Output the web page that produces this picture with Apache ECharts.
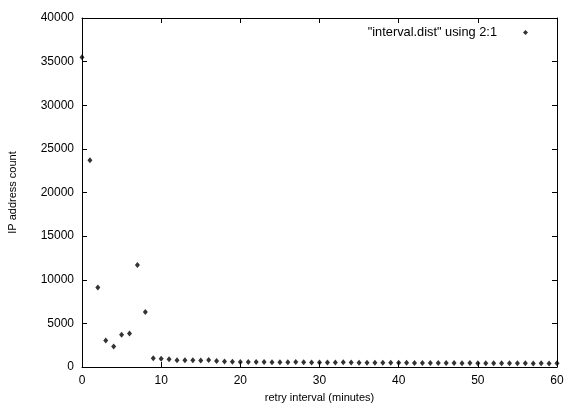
<!DOCTYPE html>
<html>
<head>
<meta charset="utf-8">
<script src="https://cdn.jsdelivr.net/npm/echarts@6/dist/echarts.min.js"></script>
<style>
  html, body { margin: 0; padding: 0; background: #fff; }
  #main { width: 566px; height: 405px; }
</style>
</head>
<body>
<div id="main"></div>
<script>
// retry interval (minutes) -> IP address count
var minutes = [];
for (var i = 0; i <= 60; i++) minutes.push(i);
var counts = [
    35500, 23700, 9100, 3050, 2350, 3700, 3850, 11700, 6300, 1000,
    950, 900, 780, 780, 760, 750, 790, 700, 640, 600,
    580, 570, 560, 560, 550, 550, 540, 560, 540, 520,
    530, 520, 510, 540, 520, 500, 490, 500, 490, 480,
    500, 480, 470, 460, 470, 460, 450, 450, 440, 450,
    440, 430, 440, 430, 420, 430, 420, 410, 420, 410,
    430
];
var xTicks = [0, 10, 20, 30, 40, 50, 60];
var yTicks = [0, 5000, 10000, 15000, 20000, 25000, 30000, 35000, 40000];
var seriesName = '"interval.dist" using 2:1';

var points = minutes.map(function (m, i) { return [m, counts[i]]; });

var myChart = echarts.init(document.getElementById('main'));

var font = 'Liberation Sans, Arial, sans-serif';
var axisLine = { show: true, onZero: false, lineStyle: { color: '#000', width: 1 } };
var axisTick = { show: true, inside: true, length: 5, lineStyle: { color: '#000' } };
var plain = function (v) { return String(v); };

var option = {
    backgroundColor: '#fff',
    animation: false,
    grid: { left: 82, top: 18, right: 9, bottom: 38, outerBoundsMode: 'none' },
    legend: {
        right: 33,
        top: 21,
        align: 'right',
        icon: 'diamond',
        itemWidth: 5,
        itemHeight: 5,
        itemGap: 0,
        textStyle: { color: '#000', fontSize: 12.8, fontFamily: font, padding: [0, 21, 0, 0] },
        data: [seriesName]
    },
    xAxis: [
        {
            type: 'value',
            min: xTicks[0],
            max: xTicks[xTicks.length - 1],
            interval: 10,
            name: 'retry interval (minutes)',
            nameLocation: 'middle',
            nameGap: 25,
            nameTextStyle: { color: '#000', fontSize: 11, fontFamily: font },
            axisLine: axisLine,
            axisTick: axisTick,
            axisLabel: { color: '#000', fontSize: 12, fontFamily: font, margin: 8, formatter: plain },
            splitLine: { show: false }
        },
        {
            type: 'value',
            position: 'top',
            min: xTicks[0],
            max: xTicks[xTicks.length - 1],
            interval: 10,
            axisLine: axisLine,
            axisTick: axisTick,
            axisLabel: { show: false },
            splitLine: { show: false }
        }
    ],
    yAxis: [
        {
            type: 'value',
            min: yTicks[0],
            max: yTicks[yTicks.length - 1],
            interval: 5000,
            name: 'IP address count',
            nameLocation: 'middle',
            nameGap: 64,
            nameTextStyle: { color: '#000', fontSize: 11, fontFamily: font },
            axisLine: axisLine,
            axisTick: axisTick,
            axisLabel: { color: '#000', fontSize: 12, fontFamily: font, margin: 8, formatter: plain },
            splitLine: { show: false }
        },
        {
            type: 'value',
            position: 'right',
            min: yTicks[0],
            max: yTicks[yTicks.length - 1],
            interval: 5000,
            axisLine: axisLine,
            axisTick: axisTick,
            axisLabel: { show: false },
            splitLine: { show: false }
        }
    ],
    series: [
        {
            name: seriesName,
            type: 'scatter',
            symbol: 'diamond',
            symbolSize: [5, 6],
            clip: false,
            itemStyle: { color: '#000' },
            data: points
        }
    ]
};

myChart.setOption(option);
</script>
</body>
</html>
